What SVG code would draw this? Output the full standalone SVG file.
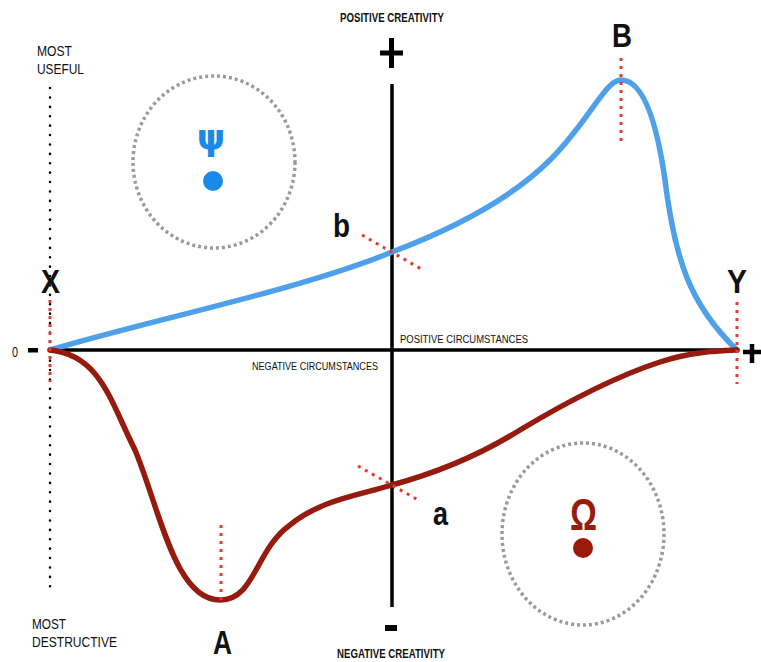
<svg xmlns="http://www.w3.org/2000/svg" width="761" height="662" viewBox="0 0 761 662">
<style>
.lbl{font-family:"Liberation Sans",Arial,sans-serif;fill:#111}
.sm{font-size:11.5px}
.bsm{font-size:12px;font-weight:bold}
.mid{font-size:15px}
.big{font-size:34px;font-weight:bold}
.red{stroke:#e8392a;stroke-width:3;stroke-dasharray:3 5;fill:none}
.ring{fill:none;stroke:#9a9a9a;stroke-width:3.5;stroke-dasharray:3 3}
</style>
<rect width="761" height="662" fill="#fff"/>
<g id="axes">
<line x1="50" y1="350" x2="738" y2="350" stroke="#000" stroke-width="3.5"/>
<line x1="392" y1="84" x2="392" y2="607" stroke="#000" stroke-width="3.5"/>
<line x1="50" y1="88" x2="50" y2="592" stroke="#000" stroke-width="2.5" stroke-dasharray="0.1 9.3" stroke-linecap="round"/>
<path d="M380 53H403M391.5 38V68" stroke="#000" stroke-width="5"/>
<path d="M743 352H761M752 344V363" stroke="#000" stroke-width="4.5"/>
<rect x="385" y="625" width="12" height="6" fill="#000"/>
<rect x="28" y="348" width="10" height="4.5" fill="#000"/>
</g>
<g id="connectors">
<path d="M50 350 C150 320 300 290 392 252 C450 230 510 200 550 160 S605 80 621 80 C640 80 655 110 665 180 C675 260 690 305 737 350" fill="none" stroke="#4ea0ea" stroke-width="5.5" stroke-linecap="round"/>
<path d="M50 350 C100 355 110 400 135 450 C160 510 175 600 220 600 C255 600 255 550 290 525 C320 500 360 495 392 485 C440 472 480 455 520 430 C570 400 620 375 660 362 C690 352 715 351 737 350" fill="none" stroke="#961a0d" stroke-width="5.5" stroke-linecap="round"/>
<line x1="50" y1="300" x2="50" y2="382" class="red"/>
<line x1="737" y1="302" x2="737" y2="384" class="red"/>
<line x1="621" y1="58" x2="621" y2="143" class="red"/>
<line x1="221" y1="525" x2="221" y2="602" class="red"/>
<line x1="362" y1="235" x2="423" y2="270" class="red"/>
<line x1="358" y1="466" x2="420" y2="501" class="red"/>
</g>
<g id="psi">
<ellipse cx="214" cy="162" rx="81" ry="86" class="ring"/>
<text x="211" y="150" text-anchor="middle" font-family="DejaVu Sans,sans-serif" font-size="36" font-weight="bold" fill="#1a8ae8">ψ</text>
<circle cx="213" cy="181" r="10" fill="#1a8ae8"/>
</g>
<g id="omega">
<ellipse cx="583" cy="534" rx="81" ry="91" class="ring"/>
<text x="570" y="530" font-family="Liberation Sans,Arial,sans-serif" font-size="44" font-weight="bold" fill="#9a1a0c" textLength="27" lengthAdjust="spacingAndGlyphs">Ω</text>
<circle cx="583" cy="548" r="10" fill="#9a1a0c"/>
</g>
<g id="labels">
<text x="340" y="22" class="lbl bsm" textLength="104" lengthAdjust="spacingAndGlyphs">POSITIVE CREATIVITY</text>
<text x="337" y="658" class="lbl bsm" textLength="108" lengthAdjust="spacingAndGlyphs">NEGATIVE CREATIVITY</text>
<text x="400" y="343" class="lbl sm" textLength="128" lengthAdjust="spacingAndGlyphs">POSITIVE CIRCUMSTANCES</text>
<text x="252" y="370" class="lbl sm" textLength="126" lengthAdjust="spacingAndGlyphs">NEGATIVE CIRCUMSTANCES</text>
<text x="37" y="56" class="lbl mid" textLength="35" lengthAdjust="spacingAndGlyphs">MOST</text>
<text x="37" y="74" class="lbl mid" textLength="47" lengthAdjust="spacingAndGlyphs">USEFUL</text>
<text x="32" y="629" class="lbl mid" textLength="34" lengthAdjust="spacingAndGlyphs">MOST</text>
<text x="32" y="647" class="lbl mid" textLength="85" lengthAdjust="spacingAndGlyphs">DESTRUCTIVE</text>
<text x="12" y="357" class="lbl mid" textLength="6" lengthAdjust="spacingAndGlyphs">0</text>
<text x="41" y="293" class="lbl big" textLength="19" lengthAdjust="spacingAndGlyphs">X</text>
<text x="727" y="293" class="lbl big" textLength="20" lengthAdjust="spacingAndGlyphs">Y</text>
<text x="612" y="47" class="lbl big" textLength="20" lengthAdjust="spacingAndGlyphs">B</text>
<text x="213" y="654" class="lbl big" textLength="19" lengthAdjust="spacingAndGlyphs">A</text>
<text x="333" y="237" class="lbl big" textLength="17" lengthAdjust="spacingAndGlyphs">b</text>
<text x="433" y="525" class="lbl big" textLength="15" lengthAdjust="spacingAndGlyphs">a</text>
</g>
</svg>
